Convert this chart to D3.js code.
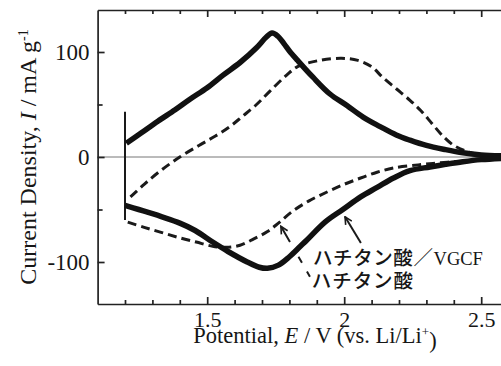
<!DOCTYPE html>
<html>
<head>
<meta charset="utf-8">
<script src="https://cdn.jsdelivr.net/npm/d3@7"></script>
<style>
  body { margin: 0; background: #fff; }
  svg text { font-family: "Liberation Serif", "Times New Roman", serif; fill: #161616; }
  .jp { font-family: "Noto Sans CJK JP", sans-serif; font-weight: 500; }
  .axis path, .axis line { stroke: #222; stroke-width: 1.7; }
</style>
</head>
<body>
<div id="chart"></div>
<script>
// [potential V, current density mA/g]
var vgcfOx = [[1.205,13],[1.26,23],[1.32,34],[1.383,45],[1.437,55],[1.50,66],[1.558,78],[1.62,90],[1.68,104],
  [1.715,114],[1.737,118],[1.758,115],[1.78,108],[1.80,101],[1.83,92],[1.886,76],[1.948,60],[2.01,49],[2.069,38],
  [2.131,29],[2.19,21],[2.24,16],[2.30,11],[2.37,7],[2.433,4],[2.50,2],[2.60,1]];
var vgcfRed = [[1.20,-46],[1.25,-50],[1.30,-54],[1.335,-57],[1.40,-63],[1.456,-70],[1.52,-81],[1.576,-90],
  [1.646,-100],[1.69,-105],[1.72,-106],[1.76,-103],[1.80,-95],[1.84,-85],[1.864,-79],[1.93,-62],
  [1.995,-50],[2.06,-38],[2.12,-29],[2.18,-20],[2.24,-13],[2.313,-9.5],[2.37,-7],[2.433,-4.5],[2.50,-2.5],[2.60,-1]];
var htoOx = [[1.22,-38],[1.27,-26],[1.33,-13],[1.40,0],[1.47,11],[1.53,20],[1.583,29],[1.63,39],[1.68,50],
  [1.73,63],[1.79,78],[1.83,86],[1.91,92],[1.99,94],[2.05,92],[2.10,86],[2.14,76],[2.19,65],[2.24,54],
  [2.28,44],[2.32,32],[2.36,20],[2.40,11],[2.44,6],[2.48,3],[2.60,0.5]];
var htoRed = [[1.21,-62],[1.27,-67],[1.335,-72],[1.40,-77],[1.46,-81],[1.52,-85],[1.57,-86],[1.62,-84],
  [1.67,-78],[1.72,-71],[1.76,-63],[1.81,-52],[1.87,-42],[1.94,-33],[2.00,-26],[2.06,-20],[2.12,-14.5],
  [2.18,-10.5],[2.27,-7.5],[2.35,-5.5],[2.43,-4],[2.50,-2.5],[2.60,-1]];
// switching spike at the start potential
var spike = [[1.2,43],[1.2,-60]];

var xMajor = [1.5, 2, 2.5];
var xMinor = [1.2, 1.3, 1.4, 1.6, 1.7, 1.8, 1.9, 2.1, 2.2, 2.3, 2.4];
var yMajor = [-100, 0, 100];
var yMinor = [-50, 50];
var labelVGCF = "ハチタン酸／";
var labelHTO = "ハチタン酸";

var width = 501, height = 366;
var svg = d3.select("#chart").append("svg")
    .attr("width", width).attr("height", height);

var x = d3.scaleLinear().domain([1.1, 2.6]).range([97.6, 97.6 + 1.5 * 274]);
var y = d3.scaleLinear().domain([-140, 140]).range([304, 10]);

// zero line
svg.append("line")
    .attr("x1", x(1.1)).attr("x2", width)
    .attr("y1", y(0)).attr("y2", y(0))
    .attr("stroke", "#777").attr("stroke-width", 1);

// axes, ticks pointing inward
var bottom = svg.append("g").attr("class", "axis")
    .attr("transform", "translate(0," + y(-140) + ")")
    .call(d3.axisBottom(x).tickValues(xMajor).tickSizeInner(-7).tickSizeOuter(0).tickPadding(7)
      .tickFormat(String));
bottom.selectAll("text").style("font-size", "22px");
svg.append("g").attr("class", "axis")
    .attr("transform", "translate(0," + y(-140) + ")")
    .call(d3.axisBottom(x).tickValues(xMinor).tickSizeInner(-4).tickSizeOuter(0).tickFormat(""))
    .select(".domain").remove();

svg.append("g").attr("class", "axis")
    .attr("transform", "translate(0," + y(140) + ")")
    .call(d3.axisTop(x).tickValues(xMajor).tickSizeInner(-7).tickSizeOuter(0).tickFormat(""));
svg.append("g").attr("class", "axis")
    .attr("transform", "translate(0," + y(140) + ")")
    .call(d3.axisTop(x).tickValues(xMinor).tickSizeInner(-4).tickSizeOuter(0).tickFormat(""))
    .select(".domain").remove();

var left = svg.append("g").attr("class", "axis")
    .attr("transform", "translate(" + x(1.1) + ",0)")
    .call(d3.axisLeft(y).tickValues(yMajor).tickSizeInner(-7).tickSizeOuter(0).tickPadding(8)
      .tickFormat(String));
left.selectAll("text").style("font-size", "23px");
svg.append("g").attr("class", "axis")
    .attr("transform", "translate(" + x(1.1) + ",0)")
    .call(d3.axisLeft(y).tickValues(yMinor).tickSizeInner(-5).tickSizeOuter(0).tickFormat(""))
    .select(".domain").remove();
svg.selectAll(".axis .tick text").attr("fill", "#161616");

// curves
var line = d3.line()
    .x(function(d) { return x(d[0]); })
    .y(function(d) { return y(d[1]); })
    .curve(d3.curveCatmullRom.alpha(0.5));

svg.append("path").datum(spike)
    .attr("d", d3.line().x(function(d) { return x(d[0]); }).y(function(d) { return y(d[1]); }))
    .attr("stroke", "#1a1a1a").attr("stroke-width", 2).attr("fill", "none");

[htoOx, htoRed].forEach(function(s) {
  svg.append("path").datum(s)
      .attr("d", line)
      .attr("fill", "none")
      .attr("stroke", "#1a1a1a")
      .attr("stroke-width", 3)
      .attr("stroke-dasharray", "9,5");
});
[vgcfOx, vgcfRed].forEach(function(s) {
  svg.append("path").datum(s)
      .attr("d", line)
      .attr("fill", "none")
      .attr("stroke", "#111")
      .attr("stroke-width", 5.5)
      .attr("stroke-linejoin", "round");
});

// arrows and labels
svg.append("defs").append("marker")
    .attr("id", "head").attr("viewBox", "0 0 10 10")
    .attr("refX", 9).attr("refY", 5)
    .attr("markerWidth", 9).attr("markerHeight", 9)
    .attr("markerUnits", "userSpaceOnUse")
    .attr("orient", "auto")
  .append("path").attr("d", "M1,1 L9,5 L1,9")
    .attr("fill", "none").attr("stroke", "#1a1a1a").attr("stroke-width", 1.8);

svg.append("line")
    .attr("x1", x(2.061)).attr("y1", y(-82))
    .attr("x2", x(2.003)).attr("y2", y(-57))
    .attr("stroke", "#1a1a1a").attr("stroke-width", 2)
    .attr("marker-end", "url(#head)");
svg.append("line")
    .attr("x1", x(1.875)).attr("y1", y(-114))
    .attr("x2", x(1.769)).attr("y2", y(-66))
    .attr("stroke", "#1a1a1a").attr("stroke-width", 2)
    .attr("stroke-dasharray", "6,10,7,17,19")
    .attr("marker-end", "url(#head)");

var t1 = svg.append("text")
    .attr("x", x(1.886)).attr("y", y(-103));
t1.append("tspan").attr("class", "jp")
    .style("font-size", "19.5px").style("letter-spacing", "0.6px")
    .text(labelVGCF);
t1.append("tspan").style("font-size", "18.5px").text("VGCF");
svg.append("text").attr("class", "jp")
    .attr("x", x(1.882)).attr("y", y(-125))
    .style("font-size", "19.5px").style("letter-spacing", "0.9px")
    .text(labelHTO);

// axis titles
var xt = svg.append("text")
    .attr("x", 315).attr("y", 343)
    .attr("text-anchor", "middle")
    .style("font-size", "22.5px");
xt.append("tspan").text("Potential, ");
xt.append("tspan").style("font-style", "italic").text("E");
xt.append("tspan").text(" / V (vs. Li/Li");
xt.append("tspan").attr("dy", "-0.55em").style("font-size", "13px").text("+");
xt.append("tspan").attr("dy", "0.55em").text(")");

var yt = svg.append("text")
    .attr("transform", "translate(36,157) rotate(-90)")
    .attr("text-anchor", "middle")
    .style("font-size", "24px");
yt.append("tspan").text("Current Density, ");
yt.append("tspan").style("font-style", "italic").text("I");
yt.append("tspan").text(" / mA g");
yt.append("tspan").attr("dy", "-0.55em").style("font-size", "14px").text("-1");
</script>
</body>
</html>
